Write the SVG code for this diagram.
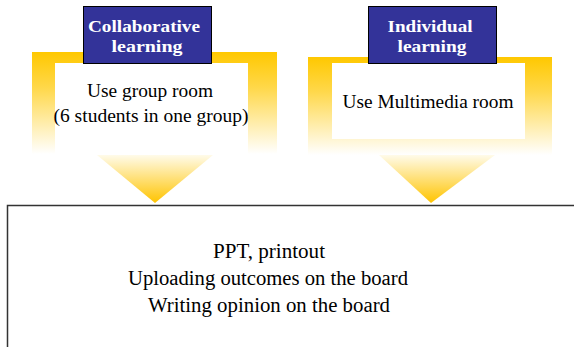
<svg xmlns="http://www.w3.org/2000/svg" width="574" height="347" viewBox="0 0 574 347">
<defs>
<linearGradient id="bodyGrad" x1="0" y1="0" x2="0" y2="1">
<stop offset="0" stop-color="#FFC800"/>
<stop offset="0.35" stop-color="#FFD84A"/>
<stop offset="1" stop-color="#FFFFFF"/>
</linearGradient>
<linearGradient id="headGrad" x1="0" y1="0" x2="0" y2="1">
<stop offset="0" stop-color="#FFFBEA"/>
<stop offset="1" stop-color="#FFC400"/>
</linearGradient>
<style>
text{font-family:'Liberation Serif','DejaVu Serif',serif;text-anchor:middle}
.title{font-weight:bold;font-size:17px;fill:#FFFFFF}
.label{font-size:18px;fill:#000000}
.big{font-size:20px;fill:#000000}
.navy{fill:#333399;stroke:#000000;stroke-width:1}
</style>
</defs>
<rect width="574" height="347" fill="#FFFFFF"/>
<g id="connectors">
<polygon points="97,155 213,155 155,203" fill="url(#headGrad)"/>
<polygon points="379,155 495,155 431,203" fill="url(#headGrad)"/>
</g>
<g id="collaborative">
<rect x="32" y="52" width="245" height="102" fill="url(#bodyGrad)"/>
<rect x="55" y="63" width="193" height="92" fill="#FFFFFF"/>
<rect class="navy" x="83.5" y="6.5" width="128" height="57"/>
<text class="title" x="144" y="32" textLength="112" lengthAdjust="spacingAndGlyphs">Collaborative</text>
<text class="title" x="147" y="52" textLength="71" lengthAdjust="spacingAndGlyphs">learning</text>
<text class="label" x="150" y="97" textLength="126" lengthAdjust="spacingAndGlyphs">Use group room</text>
<text class="label" x="151" y="122" textLength="195" lengthAdjust="spacingAndGlyphs">(6 students in one group)</text>
</g>
<g id="individual">
<rect x="308" y="57" width="244" height="98" fill="url(#bodyGrad)"/>
<rect x="332" y="63" width="193" height="76" fill="#FFFFFF"/>
<rect class="navy" x="368.5" y="6.5" width="128" height="57"/>
<text class="title" x="430" y="32" textLength="85" lengthAdjust="spacingAndGlyphs">Individual</text>
<text class="title" x="432" y="52" textLength="69" lengthAdjust="spacingAndGlyphs">learning</text>
<text class="label" x="428" y="108" textLength="171" lengthAdjust="spacingAndGlyphs">Use Multimedia room</text>
</g>
<g id="outcomes">
<rect x="7.5" y="205.5" width="580" height="200" fill="#FFFFFF" stroke="#333333" stroke-width="1.5"/>
<text class="big" x="269" y="258" textLength="112" lengthAdjust="spacingAndGlyphs">PPT, printout</text>
<text class="big" x="268" y="285" textLength="280" lengthAdjust="spacingAndGlyphs">Uploading outcomes on the board</text>
<text class="big" x="269" y="312" textLength="242" lengthAdjust="spacingAndGlyphs">Writing opinion on the board</text>
</g>
</svg>
